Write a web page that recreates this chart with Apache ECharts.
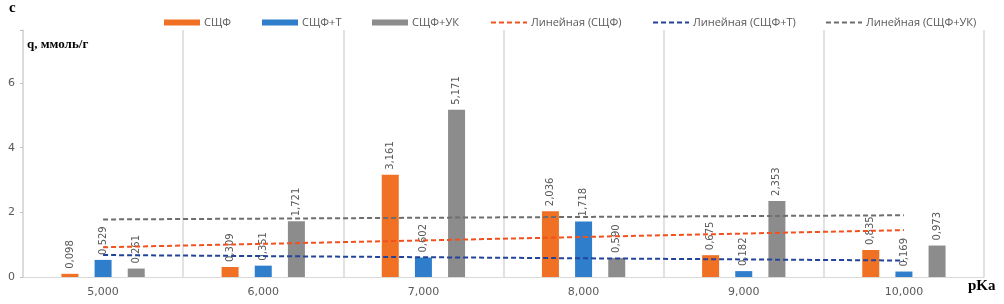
<!DOCTYPE html>
<html>
<head>
<meta charset="utf-8">
<script src="https://cdn.jsdelivr.net/npm/echarts@6/dist/echarts.min.js"></script>
<style>
  html, body { margin: 0; padding: 0; background: #fff; }
  #chart { width: 1004px; height: 304px; }
</style>
</head>
<body>
<div id="chart"></div>
<script>
// категории pKa
var categories = ['5,000', '6,000', '7,000', '8,000', '9,000', '10,000']
// q, ммоль/г
var scf = [0.098, 0.309, 3.161, 2.036, 0.675, 0.835]
var scfT = [0.529, 0.351, 0.602, 1.718, 0.182, 0.169]
var scfUK = [0.261, 1.721, 5.171, 0.590, 2.353, 0.973]
// концы линий тренда (первая и последняя категория)
var trendScf = [0.92, 1.45]
var trendScfT = [0.68, 0.51]
var trendScfUK = [1.78, 1.91]

var chart = echarts.init(document.getElementById('chart'))

function fmt(p) {
  return p.value.toFixed(3).replace('.', ',')
}

var barLabel = {
  show: true,
  position: 'top',
  rotate: 90,
  align: 'left',
  verticalAlign: 'middle',
  distance: 5,
  color: '#595959',
  fontSize: 10,
  fontFamily: 'DejaVu Sans',
  formatter: fmt
}

function trend(vals) {
  return [[0, vals[0]], [categories.length - 1, vals[1]]]
}

// легенда: каждая запись отдельно
var legendItems = [
  { name: 'СЩФ', left: 159, bar: true },
  { name: 'СЩФ+Т', left: 257, bar: true },
  { name: 'СЩФ+УК', left: 367, bar: true },
  { name: 'Линейная (СЩФ)', left: 485, bar: false },
  { name: 'Линейная (СЩФ+Т)', left: 647, bar: false },
  { name: 'Линейная (СЩФ+УК)', left: 820, bar: false }
]
var legends = legendItems.map(function (it) {
  return {
    top: 12,
    left: it.left,
    itemWidth: 36,
    itemHeight: 6,
    itemGap: 4,
    selectedMode: false,
    textStyle: { color: '#595959', fontSize: 11, fontFamily: 'Open Sans', padding: [0, 0, 0, -1] },
    data: [it.bar ? { name: it.name, icon: 'rect' } : { name: it.name, itemStyle: { opacity: 0 } }]
  }
})

var option = {
  animation: false,
  grid: { left: 23, right: 20, top: 30, bottom: 27 },
  legend: legends,
  graphic: [
    { type: 'text', left: 9, top: 1, style: { text: 'c', font: 'bold 15px "Liberation Serif"', fill: '#000' } },
    { type: 'text', left: 27, top: 38, style: { text: 'q, ммоль/г', font: 'bold 13px "Liberation Serif"', fill: '#000' } },
    { type: 'text', left: 968, top: 279, style: { text: 'pKa', font: 'bold 15px "Liberation Serif"', fill: '#000' } }
  ],
  xAxis: {
    type: 'category',
    data: categories,
    boundaryGap: true,
    axisLine: { show: true, lineStyle: { color: '#d9d9d9', width: 1 } },
    axisTick: { show: false },
    axisLabel: { color: '#595959', fontSize: 11, fontFamily: 'DejaVu Sans', margin: 10 },
    splitLine: { show: true, lineStyle: { color: '#d9d9d9', width: 1.5 } }
  },
  yAxis: {
    type: 'value',
    min: 0,
    max: 7.64,
    interval: 2,
    axisLine: { show: true, lineStyle: { color: '#d9d9d9', width: 1.5 } },
    axisTick: { show: true, length: 3, lineStyle: { color: '#bfbfbf' } },
    axisLabel: { color: '#595959', fontSize: 11, fontFamily: 'DejaVu Sans', margin: 8,
      formatter: function (v) { return v % 2 === 0 ? v : '' } },
    splitLine: { show: false }
  },
  series: [
    { name: 'СЩФ', type: 'bar', data: scf, barWidth: 17, barGap: '95%',
      itemStyle: { color: '#F07124' }, label: barLabel },
    { name: 'СЩФ+Т', type: 'bar', data: scfT, barWidth: 17, barGap: '95%',
      itemStyle: { color: '#2F7ECB' }, label: barLabel },
    { name: 'СЩФ+УК', type: 'bar', data: scfUK, barWidth: 17, barGap: '95%',
      itemStyle: { color: '#8C8C8C' }, label: barLabel },
    { name: 'Линейная (СЩФ)', type: 'line', data: trend(trendScf), symbol: 'none', z: 5,
      lineStyle: { color: '#F0521E', width: 2, type: [5, 3] }, itemStyle: { color: '#F0521E' } },
    { name: 'Линейная (СЩФ+Т)', type: 'line', data: trend(trendScfT), symbol: 'none', z: 5,
      lineStyle: { color: '#22439A', width: 2, type: [5, 3] }, itemStyle: { color: '#22439A' } },
    { name: 'Линейная (СЩФ+УК)', type: 'line', data: trend(trendScfUK), symbol: 'none', z: 5,
      lineStyle: { color: '#6E6E6E', width: 2, type: [5, 3] }, itemStyle: { color: '#6E6E6E' } }
  ]
}

chart.setOption(option)
</script>
</body>
</html>
